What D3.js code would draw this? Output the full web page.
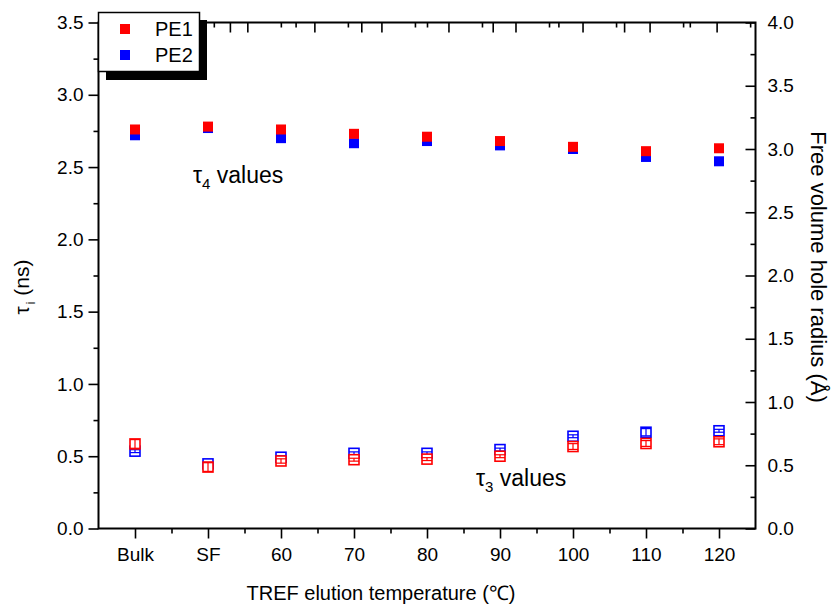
<!DOCTYPE html>
<html>
<head>
<meta charset="utf-8">
<script src="https://cdn.jsdelivr.net/npm/d3@7"></script>
<style>
  html, body { margin: 0; padding: 0; background: #fff; }
  svg { display: block; font-family: "Liberation Sans", Arial, sans-serif; }
</style>
</head>
<body>
<svg id="chart" width="831" height="605"></svg>
<script>
// Sample categories along the TREF elution axis
const categories = ["Bulk", "SF", "60", "70", "80", "90", "100", "110", "120"];

// Long-lived o-Ps lifetime tau4 (ns)
const tau4PE1 = [2.76, 2.78, 2.76, 2.73, 2.71, 2.68, 2.64, 2.61, 2.63];
const tau4PE2 = [2.72, 2.77, 2.70, 2.665, 2.68, 2.65, 2.625, 2.57, 2.54];

// Short o-Ps lifetime tau3 (ns) with its uncertainty
const tau3PE1 = [0.585, 0.425, 0.467, 0.476, 0.48, 0.50, 0.567, 0.588, 0.60];
const tau3PE1Err = [0.03, 0.03, 0.015, 0.01, 0.01, 0.01, 0.02, 0.02, 0.02];
const tau3PE2 = [0.535, 0.447, 0.493, 0.52, 0.52, 0.546, 0.638, 0.666, 0.676];
const tau3PE2Err = [0.01, 0.01, 0.01, 0.01, 0.01, 0.01, 0.01, 0.025, 0.01];

// Axis tick values
const leftTicks = [0.0, 0.5, 1.0, 1.5, 2.0, 2.5, 3.0, 3.5];
const rightTicks = [0.0, 0.5, 1.0, 1.5, 2.0, 2.5, 3.0, 3.5, 4.0];

const seriesNames = ["PE1", "PE2"];
const colors = { PE1: "#ff0000", PE2: "#0000ff" };

const svg = d3.select("#chart");
const L = 98.5, R = 755.5, T = 22.5, B = 528.5;

const x = d3.scalePoint().domain(categories).range([L, R]).padding(0.5);
const xIdx = d3.scaleLinear().domain([-0.5, categories.length - 0.5]).range([L, R]);
const yL = d3.scaleLinear().domain([0, 3.5]).range([B, T]);
const yR = d3.scaleLinear().domain([0, 4]).range([B, T]);

const fmt = d3.format(".1f");
const tickFont = 19;

function styleAxis(g) {
  g.select(".domain").remove();
  g.selectAll(".tick line").attr("stroke", "#000").attr("stroke-width", 1.6);
  g.selectAll(".tick text").attr("fill", "#000").style("font-size", tickFont + "px")
    .style("font-family", '"Liberation Sans", Arial, sans-serif');
}

// Left axis (tau_i)
svg.append("g").attr("transform", `translate(${L},0)`)
  .call(d3.axisLeft(yL).tickValues(leftTicks).tickFormat(fmt).tickSize(10).tickPadding(5))
  .call(styleAxis);
svg.append("g").attr("transform", `translate(${L},0)`)
  .call(d3.axisLeft(yL).tickValues(d3.range(0.25, 3.5, 0.5)).tickFormat("").tickSize(5))
  .call(styleAxis);

// Right axis (free volume hole radius), ticks pointing inward
svg.append("g").attr("transform", `translate(${R},0)`)
  .call(d3.axisRight(yR).tickValues(rightTicks).tickFormat(fmt).tickSizeInner(-10).tickSizeOuter(0).tickPadding(12))
  .call(styleAxis);
svg.append("g").attr("transform", `translate(${R},0)`)
  .call(d3.axisRight(yR).tickValues(d3.range(0.25, 4, 0.5)).tickFormat("").tickSizeInner(-5).tickSizeOuter(0))
  .call(styleAxis);

// Bottom axis
svg.append("g").attr("transform", `translate(0,${B})`)
  .call(d3.axisBottom(x).tickSize(10).tickPadding(9))
  .call(styleAxis);
svg.append("g").attr("transform", `translate(0,${B})`)
  .call(d3.axisBottom(xIdx).tickValues(d3.range(0.5, categories.length - 1, 1)).tickFormat("").tickSize(5))
  .call(styleAxis);

// Top axes: two unlabeled linked scales with inward ticks
const topA = d3.scaleLinear().domain([37.8, 135.8]).range([L, R]);
const topB = d3.scaleLinear().domain([0, 5]).range([L, R]);
[[topA, 10, 5], [topB, 1, 0.5]].forEach(([s, maj, min]) => {
  const [d0, d1] = s.domain();
  const majors = d3.range(Math.ceil(d0 / maj) * maj, d1 + 1e-9, maj).filter(v => v > d0 + 1e-6 && v < d1 - 1e-6);
  const minors = d3.range(Math.ceil(d0 / min) * min, d1 + 1e-9, min)
    .filter(v => v > d0 + 1e-6 && v < d1 - 1e-6 && Math.abs(v / maj - Math.round(v / maj)) > 1e-6);
  svg.append("g").attr("transform", `translate(0,${T})`)
    .call(d3.axisTop(s).tickValues(majors).tickFormat("").tickSizeInner(-10).tickSizeOuter(0))
    .call(styleAxis);
  svg.append("g").attr("transform", `translate(0,${T})`)
    .call(d3.axisTop(s).tickValues(minors).tickFormat("").tickSizeInner(-5).tickSizeOuter(0))
    .call(styleAxis);
});

// Frame
svg.append("rect").attr("x", L).attr("y", T).attr("width", R - L).attr("height", B - T)
  .attr("fill", "none").attr("stroke", "#000").attr("stroke-width", 2);

// Data layers: PE2 underneath, PE1 on top
const ms = 10;
const layers = [
  { name: "PE2", t4: tau4PE2, t3: tau3PE2, err: tau3PE2Err },
  { name: "PE1", t4: tau4PE1, t3: tau3PE1, err: tau3PE1Err }
];

layers.forEach(s => {
  const c = colors[s.name];
  const g = svg.append("g");
  // tau3: hollow squares with error bars
  const rows3 = categories.map((k, i) => ({ k, v: s.t3[i], e: s.err[i] }));
  g.selectAll("rect.t3").data(rows3).join("rect").attr("class", "t3")
    .attr("x", d => x(d.k) - ms / 2).attr("y", d => yL(d.v) - ms / 2)
    .attr("width", ms).attr("height", ms)
    .attr("fill", "#fff").attr("stroke", c).attr("stroke-width", 1.6);
  const eb = g.selectAll("g.eb").data(rows3).join("g").attr("class", "eb")
    .attr("stroke", c).attr("stroke-width", 1.2);
  eb.append("line").attr("x1", d => x(d.k)).attr("x2", d => x(d.k))
    .attr("y1", d => yL(d.v - d.e)).attr("y2", d => yL(d.v + d.e));
  eb.append("line").attr("x1", d => x(d.k) - ms / 2).attr("x2", d => x(d.k) + ms / 2)
    .attr("y1", d => yL(d.v + d.e)).attr("y2", d => yL(d.v + d.e));
  eb.append("line").attr("x1", d => x(d.k) - ms / 2).attr("x2", d => x(d.k) + ms / 2)
    .attr("y1", d => yL(d.v - d.e)).attr("y2", d => yL(d.v - d.e));
  // tau4: filled squares
  const rows4 = categories.map((k, i) => ({ k, v: s.t4[i] }));
  g.selectAll("rect.t4").data(rows4).join("rect").attr("class", "t4")
    .attr("x", d => x(d.k) - ms / 2).attr("y", d => yL(d.v) - ms / 2)
    .attr("width", ms).attr("height", ms).attr("fill", c);
});

// Annotations
function tauLabel(xp, yp, sub) {
  const t = svg.append("text").attr("x", xp).attr("y", yp).attr("fill", "#000").style("font-size", "23px");
  t.append("tspan").text("τ");
  t.append("tspan").attr("dy", 6).style("font-size", "15px").text(sub);
  t.append("tspan").attr("dy", -6).text(" values");
}
tauLabel(193, 183, "4");
tauLabel(476, 486, "3");

// Axis titles
svg.append("text").attr("x", 381).attr("y", 600).attr("text-anchor", "middle")
  .style("font-size", "20px").attr("fill", "#000").text("TREF elution temperature (℃)");

const lt = svg.append("text").attr("transform", "translate(29,287) rotate(-90)")
  .attr("text-anchor", "middle").style("font-size", "21px").attr("fill", "#000");
lt.append("tspan").text("τ");
lt.append("tspan").attr("dy", 6).attr("dx", 2).style("font-size", "12px").text("i");
lt.append("tspan").attr("dy", -6).text(" (ns)");

svg.append("text").attr("transform", "translate(811,267) rotate(90)")
  .attr("text-anchor", "middle").style("font-size", "22px").attr("fill", "#000")
  .text("Free volume hole radius (Å)");

// Legend with drop shadow
const lg = svg.append("g");
lg.append("rect").attr("x", 106).attr("y", 20).attr("width", 101).attr("height", 60).attr("fill", "#000");
lg.append("rect").attr("x", 98.5).attr("y", 12.5).attr("width", 101).attr("height", 59)
  .attr("fill", "#fff").attr("stroke", "#000").attr("stroke-width", 1.5);
seriesNames.forEach((n, i) => {
  const cy = 29 + i * 26;
  lg.append("rect").attr("x", 125 - ms / 2).attr("y", cy - ms / 2).attr("width", ms).attr("height", ms)
    .attr("fill", colors[n]);
  lg.append("text").attr("x", 155).attr("y", cy + 7).style("font-size", "20px").attr("fill", "#000").text(n);
});
</script>
</body>
</html>
